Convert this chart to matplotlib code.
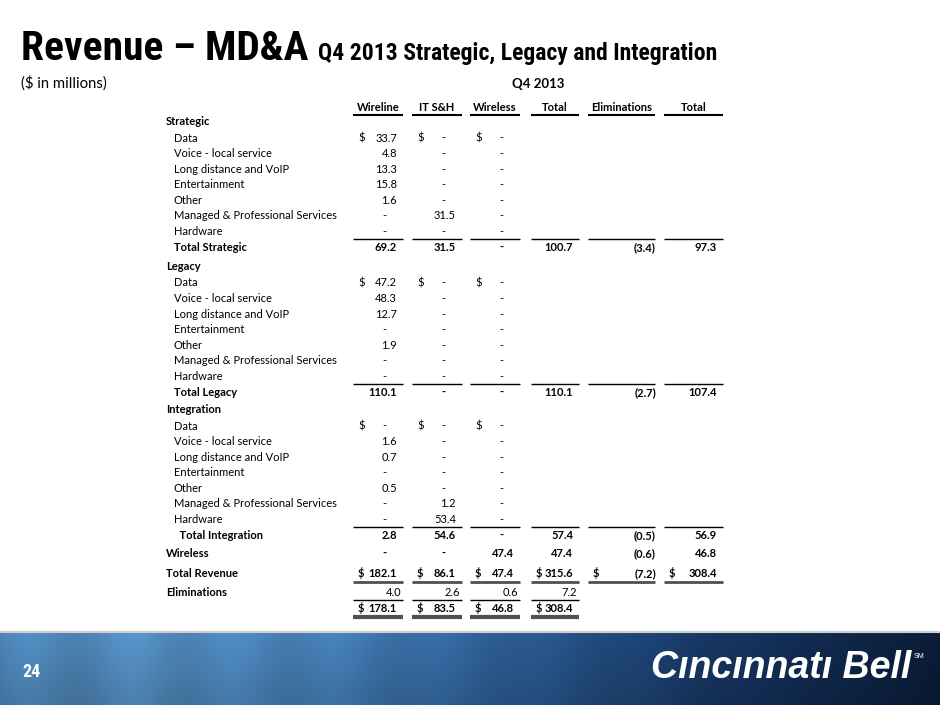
import matplotlib.pyplot as plt
import numpy as np

W, H = 940, 705
BODY = "Lato"
TITLE = ["Roboto Condensed", "Lato"]

# ---- table data ($ in millions) ----
columns = ["Wireline", "IT S&H", "Wireless", "Total", "Eliminations", "Total"]
sections = ["Strategic", "Legacy", "Integration"]
items = [
    "Data",
    "Voice - local service",
    "Long distance and VoIP",
    "Entertainment",
    "Other",
    "Managed & Professional Services",
    "Hardware",
]

strategic_wireline = [33.7, 4.8, 13.3, 15.8, 1.6, 0.0, 0.0]
strategic_itsh = [0.0, 0.0, 0.0, 0.0, 0.0, 31.5, 0.0]
strategic_wireless = [0.0, 0.0, 0.0, 0.0, 0.0, 0.0, 0.0]

legacy_wireline = [47.2, 48.3, 12.7, 0.0, 1.9, 0.0, 0.0]
legacy_itsh = [0.0, 0.0, 0.0, 0.0, 0.0, 0.0, 0.0]
legacy_wireless = [0.0, 0.0, 0.0, 0.0, 0.0, 0.0, 0.0]

integration_wireline = [0.0, 1.6, 0.7, 0.0, 0.5, 0.0, 0.0]
integration_itsh = [0.0, 0.0, 0.0, 0.0, 0.0, 1.2, 53.4]
integration_wireless = [0.0, 0.0, 0.0, 0.0, 0.0, 0.0, 0.0]

total_strategic = [69.2, 31.5, 0.0, 100.7, -3.4, 97.3]
total_legacy = [110.1, 0.0, 0.0, 110.1, -2.7, 107.4]
total_integration = [2.8, 54.6, 0.0, 57.4, -0.5, 56.9]
wireless_row = [0.0, 0.0, 47.4, 47.4, -0.6, 46.8]
total_revenue = [182.1, 86.1, 47.4, 315.6, -7.2, 308.4]
eliminations = [4.0, 2.6, 0.6, 7.2]
net_revenue = [178.1, 83.5, 46.8, 308.4]

section_items = [
    (strategic_wireline, strategic_itsh, strategic_wireless),
    (legacy_wireline, legacy_itsh, legacy_wireless),
    (integration_wireline, integration_itsh, integration_wireless),
]
section_totals = [total_strategic, total_legacy, total_integration]
total_labels = ["Total Strategic", "Total Legacy", "  Total Integration"]

# column extents (pixels)
col_left = [353, 412, 470, 531, 588, 664]
col_right = [403, 462, 520, 579, 655, 723]

fig = plt.figure(figsize=(W / 100, H / 100), dpi=100)
ax = fig.add_axes([0, 0, 1, 1])
ax.set_xlim(0, W)
ax.set_ylim(H, 0)


def put(x, y, s, size=8, bold=False, ha="left", color="black", family=BODY, **kw):
    # y is the visual middle of the capitals; draw on the baseline below it
    return ax.text(x, y + size * 0.5, s, fontsize=size,
                   fontweight="bold" if bold else "normal",
                   ha=ha, va="baseline", color=color, family=family, **kw)


def fit_width(txt, target):
    # shrink/grow font so the rendered text spans `target` pixels
    renderer = fig.canvas.get_renderer()
    for _ in range(3):
        w = txt.get_window_extent(renderer=renderer).width
        txt.set_fontsize(txt.get_fontsize() * target / w)


def cell(col, y, val, bold=False, dollar=False):
    if dollar:
        put(col_left[col] + 5, y, "$", bold=bold)
    if val == 0:
        put(col_right[col] - 19, y, "-", bold=bold, ha="center")
    elif val < 0:
        put(col_right[col] + 1, y, f"({-val:.1f})", bold=bold, ha="right")
    else:
        put(col_right[col] - 6, y, f"{val:.1f}", bold=bold, ha="right")


def rule(y, ncols, lw=1.0, color="black"):
    for c in range(ncols):
        ax.plot([col_left[c], col_right[c]], [y, y], color=color, lw=lw,
                solid_capstyle="butt")


# ---- title ----
t1 = ax.text(21, 60, "Revenue \u2013 MD&A", fontsize=26, fontweight="bold",
             family=TITLE, va="baseline", ha="left")
fit_width(t1, 287)
t2 = ax.text(318, 60, "Q4 2013 Strategic, Legacy and Integration", fontsize=16,
             fontweight="bold", family=TITLE, va="baseline", ha="left")
fit_width(t2, 400)
t3 = put(21, 82, "($ in millions)", size=10.5)
fit_width(t3, 86)
t4 = put(538, 83, "Q4 2013", size=10.5, bold=True, ha="center")
fit_width(t4, 52)

# ---- header ----
for c, name in enumerate(columns):
    put((col_left[c] + col_right[c]) / 2, 107, name, bold=True, ha="center")
rule(115, 6, lw=1.5)

# ---- sections ----
header_y = [121, 266, 409]
step = 15.55
for s, name in enumerate(sections):
    y0 = header_y[s]
    put(166, y0, name, bold=True)
    for i, item in enumerate(items):
        y = y0 + 16.5 + step * i
        put(174, y, item)
        for c in range(3):
            cell(c, y, section_items[s][c][i], dollar=(i == 0))
    y_line = y0 + 16.5 + step * 6 + 8
    rule(y_line, 6)
    y_tot = y_line + 8.5
    put(174, y_tot, total_labels[s], bold=True)
    for c in range(6):
        cell(c, y_tot, section_totals[s][c], bold=True)

# ---- wireless / totals ----
put(166, 553, "Wireless", bold=True)
for c in range(6):
    cell(c, 553, wireless_row[c], bold=True)

put(166, 573, "Total Revenue", bold=True)
for c in range(6):
    cell(c, 573, total_revenue[c], bold=True, dollar=True)
rule(582, 6, lw=2.0, color="#505050")

put(166, 592, "Eliminations", bold=True)
for c in range(4):
    put(col_right[c] - 2, 592, f"{eliminations[c]:.1f}", ha="right")
rule(600, 4, lw=1.0)

for c in range(4):
    cell(c, 608, net_revenue[c], bold=True, dollar=True)
rule(617, 4, lw=3.0, color="#505050")

# ---- footer band ----
xs = np.linspace(0, 1, W)
stops = [0.0, 0.15, 0.35, 0.55, 0.75, 1.0]
r = np.interp(xs, stops, [0.30, 0.33, 0.27, 0.17, 0.09, 0.04])
g = np.interp(xs, stops, [0.52, 0.56, 0.50, 0.36, 0.22, 0.11])
b = np.interp(xs, stops, [0.72, 0.76, 0.72, 0.58, 0.40, 0.22])
streak = 1.0 + 0.06 * np.sin(xs * 2 * np.pi * 9) * (1 - xs)
band_h = 72
shade = np.linspace(1.0, 0.85, band_h)[:, None]
grad = np.dstack([(r * streak)[None, :] * shade,
                  (g * streak)[None, :] * shade,
                  (b * streak)[None, :] * shade])
ax.imshow(np.clip(grad, 0, 1), extent=[0, W, H, H - band_h], aspect="auto",
          interpolation="bilinear")
ax.plot([0, W], [H - band_h - 1, H - band_h - 1], color="#cfcfcf", lw=1.5)

ax.text(22, 672, "24", fontsize=13, fontweight="bold", color="white",
        family=TITLE, va="center", ha="left")
ax.text(651, 668, "C\u0131nc\u0131nnat\u0131 Bell", fontsize=27,
        fontweight="bold", style="italic", color="white",
        family="Liberation Sans", va="center", ha="left")
ax.text(914, 657, "SM", fontsize=5, color="white", family="Liberation Sans",
        va="center", ha="left")

ax.set_xlim(0, W)
ax.set_ylim(H, 0)
ax.axis("off")

fig.savefig("out.png", dpi=100, facecolor="white")
